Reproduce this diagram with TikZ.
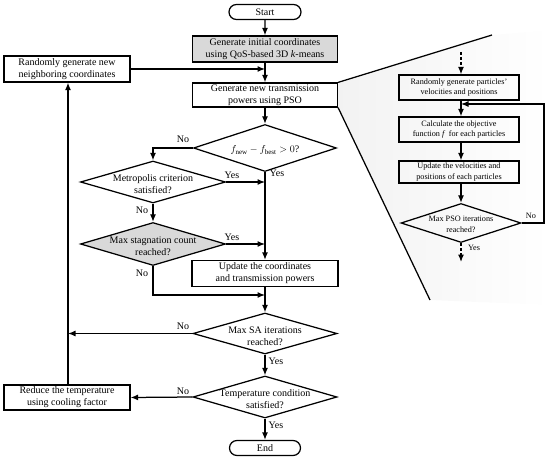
\documentclass[tikz,border=0pt]{standalone}
\usepackage{fontspec}
\setmainfont{Liberation Serif}
\usetikzlibrary{arrows.meta,shapes.geometric,shapes.misc}
\begin{document}
\begin{tikzpicture}[x=1pt,y=-1pt,
  line width=1.25pt,
  mainfont/.style={font=\fontsize{10}{12}\selectfont},
  smallfont/.style={font=\fontsize{8.2}{10.5}\selectfont},
  boxnode/.style={draw, rectangle, align=center, inner sep=0pt, mainfont},
  termnode/.style={draw, rounded rectangle, align=center, inner sep=0pt, mainfont},
  decnode/.style={draw, diamond, inner sep=0pt, aspect=3},
  dectext/.style={label={[mainfont, align=center, inner sep=0pt, yshift=-2.5pt]center:#1}},
  sdectext/.style={label={[smallfont, align=center, inner sep=0pt, yshift=-1.5pt]center:#1}},
  pbox/.style={draw, rectangle, align=center, inner sep=0pt, smallfont, minimum width=120pt},
  lbl/.style={inner sep=0pt, mainfont},
  slbl/.style={inner sep=0pt, smallfont},
  arr/.style={-{Latex[length=7.5pt,width=6pt]}},
  shadegray/.style={fill=gray!30}
]
\useasboundingbox (0,0) rectangle (550,460);

% zoom region
\shade[left color=gray!10, right color=white, draw=none]
  (338,83) -- (492,35) -- (550,30) -- (550,305) -- (430,300) -- (338,107) -- cycle;

% main column
\node[termnode, minimum width=72pt, minimum height=15pt] (start) at (265,12) {Start};
\node[boxnode, shadegray, minimum width=145pt, minimum height=26pt] (init) at (265,49)
  {Generate initial coordinates\\using QoS-based 3D \textit{k}-means};
\node[boxnode, minimum width=145pt, minimum height=24pt] (pso) at (265,95)
  {Generate new transmission\\powers using PSO};
\node[boxnode, minimum width=126pt, minimum height=26pt] (nb) at (67,69)
  {Randomly generate new\\neighboring coordinates};
\node[decnode, minimum width=143pt, minimum height=47pt,
  dectext={$f_{\mathrm{new}} - f_{\mathrm{best}} > 0$?}] (d1) at (265,148) {};
\node[decnode, minimum width=145pt, minimum height=42pt,
  dectext={Metropolis criterion\\satisfied?}] (d2) at (153,182) {};
\node[decnode, shadegray, minimum width=145pt, minimum height=43pt,
  dectext={Max stagnation count\\reached?}] (d3) at (153,244) {};
\node[boxnode, minimum width=146pt, minimum height=26pt] (upd) at (265,273.5)
  {Update the coordinates\\and transmission powers};
\node[decnode, minimum width=144pt, minimum height=41pt,
  dectext={Max SA iterations\\reached?}] (d4) at (265,333.5) {};
\node[decnode, minimum width=144pt, minimum height=42pt,
  dectext={Temperature condition\\satisfied?}] (d5) at (265,397) {};
\node[boxnode, minimum width=126pt, minimum height=25pt] (red) at (67,397.5)
  {Reduce the temperature\\using cooling factor};
\node[termnode, minimum width=71pt, minimum height=15pt] (end) at (265,448) {End};

\coordinate (mergeA) at (265,69);
\coordinate (d1left) at (153,148);
\coordinate (d3turn) at (153,295);
\coordinate (mergeB) at (265,295);
\coordinate (saleft) at (68,333.5);

\draw[arr] (start) -- (init);
\draw[arr] (init) -- (pso);
\draw[arr] (nb.east) -- (mergeA);
\draw[arr] (pso) -- (d1);
\draw[arr] (d1.west) -- (d1left) -- (d2.north);
\draw[arr] (d1.south) -- (upd.north);
\draw[arr] (d2.east) -- (d2.east -| upd.north);
\draw[arr] (d2.south) -- (d3.north);
\draw[arr] (d3.east) -- (d3.east -| upd.north);
\draw[arr] (d3.south) -- (d3turn) -- (mergeB);
\draw[arr] (upd.south) -- (d4.north);
\draw[arr] (d4.west) -- (saleft);
\draw[arr] (red.north -| saleft) -- (nb.south -| saleft);
\draw[arr] (d4.south) -- (d5.north);
\draw[arr] (d5.west) -- (red.east);
\draw[arr] (d5.south) -- (end.north);

\node[lbl] (l1) at (183,139) {No};
\node[lbl] (l2) at (277,173) {Yes};
\node[lbl] (l3) at (232,175) {Yes};
\node[lbl] (l4) at (142,210) {No};
\node[lbl] (l5) at (232,237) {Yes};
\node[lbl] (l6) at (142,273) {No};
\node[lbl] (l7) at (183,326) {No};
\node[lbl] (l8) at (276,361) {Yes};
\node[lbl] (l9) at (183,391) {No};
\node[lbl] (l10) at (276,425) {Yes};

% zoom lines
\coordinate (zt) at (492,35);
\coordinate (zb) at (430,300);
\draw (pso.north east) -- (zt);
\draw (pso.south east) -- (zb);

% PSO panel
\node[pbox, minimum height=25pt] (p1) at (459,87.5)
  {Randomly generate particles'\\velocities and positions};
\node[pbox, minimum height=25pt] (p2) at (459,129.5)
  {Calculate the objective\\function \textit{f}\, for each particles};
\node[pbox, minimum height=22pt] (p3) at (459,172)
  {Update the velocities and\\positions of each particles};
\node[decnode, minimum width=120pt, minimum height=39pt,
  sdectext={Max PSO iterations\\reached?}] (pd) at (461,223) {};

\coordinate (ptop) at (461,52);
\coordinate (pbot) at (461,262);
\coordinate (pr1) at (544,223);
\coordinate (pr2) at (544,104);
\coordinate (pin) at (461,104);

\draw[arr, dash pattern=on 3pt off 2pt] (ptop) -- (ptop |- p1.north);
\draw[arr] (p1.south -| pd) -- (p2.north -| pd);
\draw[arr] (p2.south -| pd) -- (p3.north -| pd);
\draw[arr] (p3.south -| pd) -- (pd.north);
\draw[arr] (pd.east) -- (pr1) -- (pr2) -- (pin);
\draw[arr, dash pattern=on 3pt off 2pt] (pd.south) -- (pbot);

\node[slbl] (l11) at (531,216) {No};
\node[slbl] (l12) at (474,248) {Yes};
\end{tikzpicture}
\end{document}
